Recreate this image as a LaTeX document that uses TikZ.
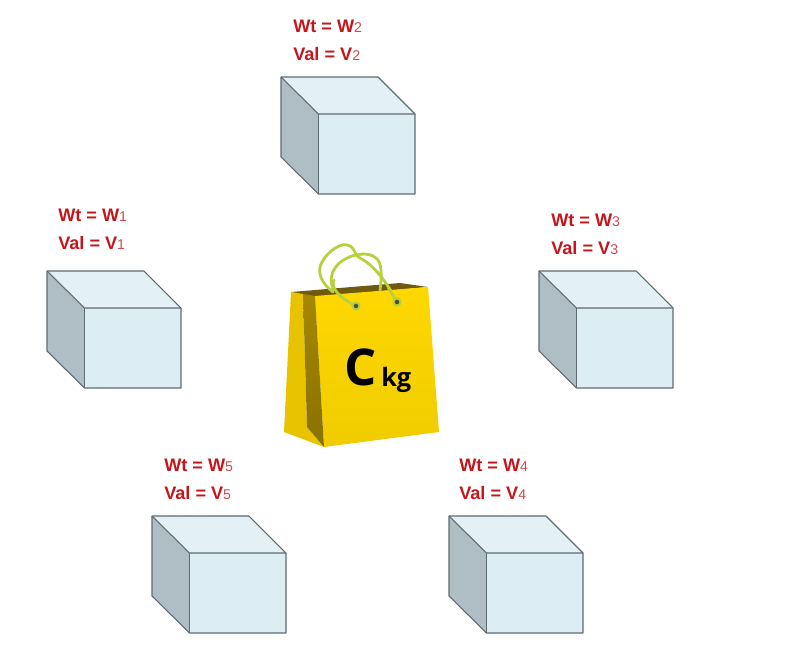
\documentclass[tikz,border=0pt]{standalone}
\usepackage{fontspec}
\setmainfont{Liberation Sans}
\newfontfamily\ckfont{Open Sans}
\definecolor{labelred}{HTML}{C4161C}
\definecolor{labelsub}{HTML}{CF4A4E}
\definecolor{cubeface}{HTML}{DCEDF4}
\definecolor{cubetop}{HTML}{E3F1F7}
\definecolor{cubeside}{HTML}{AEBEC4}
\definecolor{cubeline}{HTML}{5F6B70}
\definecolor{bagfront}{HTML}{FFD800}
\definecolor{bagfrontlow}{HTML}{F0CC00}
\definecolor{bagside}{HTML}{E8C400}
\definecolor{bagfold}{HTML}{A58800}
\definecolor{bagfoldlow}{HTML}{8A7000}
\definecolor{bagback}{HTML}{6F5A10}
\definecolor{handle}{HTML}{BACF3C}
\tikzset{
  cubeedge/.style={draw=cubeline,line width=0.8pt,line join=round},
  itemlabel/.style={text=labelred,font=\bfseries\fontsize{13.6}{15}\selectfont,anchor=west,inner sep=0pt},
  handleline/.style={draw=handle,line width=2.1pt,line cap=round},
  eyelet/.style={circle,fill=#1,inner sep=0pt,minimum size=3.4pt}
}
\newcommand{\itemcube}[5]{% x y sub lx ly
  \begin{scope}[shift={(#1,#2)}]
    \fill[cubeside] (0,0) -- (37.5,37) -- (37.5,117) -- (0,80) -- cycle;
    \fill[cubetop] (0,0) -- (97,0) -- (134,37) -- (37.5,37) -- cycle;
    \fill[cubeface] (37.5,37) rectangle (134,117);
    \draw[cubeedge] (0,0) -- (97,0) -- (134,37) -- (134,117) -- (37.5,117) -- (0,80) -- cycle;
    \draw[cubeedge] (0,0) -- (37.5,37) -- (134,37);
    \draw[cubeedge] (37.5,37) -- (37.5,117);
  \end{scope}
  \node[itemlabel] (wt#3) at (#4,#5) {Wt = W{\fontsize{10.6}{12}\selectfont\mdseries\color{labelsub} #3}};
  \node[itemlabel] (val#3) at (#4,#5+28) {Val = V{\fontsize{10.6}{12}\selectfont\mdseries\color{labelsub} #3}};
}
\begin{document}
\begin{tikzpicture}[x=0.75pt,y=-0.75pt]
\useasboundingbox (0,0) rectangle (805,661);
\fill[white] (0,0) rectangle (805,661);
\itemcube{281}{77}{2}{293}{26}
\itemcube{47}{271}{1}{58}{215}
\itemcube{539}{271}{3}{551}{220}
\itemcube{152}{516}{5}{164}{465}
\itemcube{449}{516}{4}{459}{465}
% bag back and handles
\fill[bagback] (291,292) -- (400,283) -- (428,287) -- (315,297) -- cycle;
\draw[handleline] (380,290) .. controls (382,276) and (382,262) .. (376,258)
  .. controls (368,251) and (352,254) .. (342,261)
  .. controls (332,268) and (328,280) .. (334,290);
\draw[handleline] (333,292) .. controls (322,284) and (316,272) .. (322,262)
  .. controls (328,251) and (342,241) .. (350,246)
  .. controls (356,250) and (354,255) .. (360,258)
  .. controls (372,264) and (386,280) .. (397,302);
% bag body
\shade[top color=bagfront,bottom color=bagfrontlow] (315,296) -- (428,287) -- (439,432) -- (324,447) -- cycle;
\fill[bagside] (291,292) -- (303,294) -- (307,427) -- (324,447) -- (284,432) -- cycle;
\shade[top color=bagfold,bottom color=bagfoldlow] (303,294) -- (315,296) -- (324,447) -- (307,427) -- cycle;
% handle ends over the front panel
\draw[handleline] (356,306) .. controls (340,298) and (330,288) .. (334,280);
\draw[handleline] (388,287) -- (397,302);
\node[eyelet=handle,minimum size=7pt] (eyeA) at (356,306) {};
\node[eyelet=handle,minimum size=7pt] (eyeB) at (397,302) {};
\node[eyelet=black!70] (holeA) at (356,306) {};
\node[eyelet=black!70] (holeB) at (397,302) {};
\node[inner sep=0pt,anchor=base west] (capC) at (344,385) {\ckfont\bfseries\fontsize{38}{38}\selectfont C};
\node[inner sep=0pt,anchor=base west] (capkg) at (381,386) {\ckfont\bfseries\fontsize{19}{20}\selectfont kg};
\end{tikzpicture}
\end{document}
